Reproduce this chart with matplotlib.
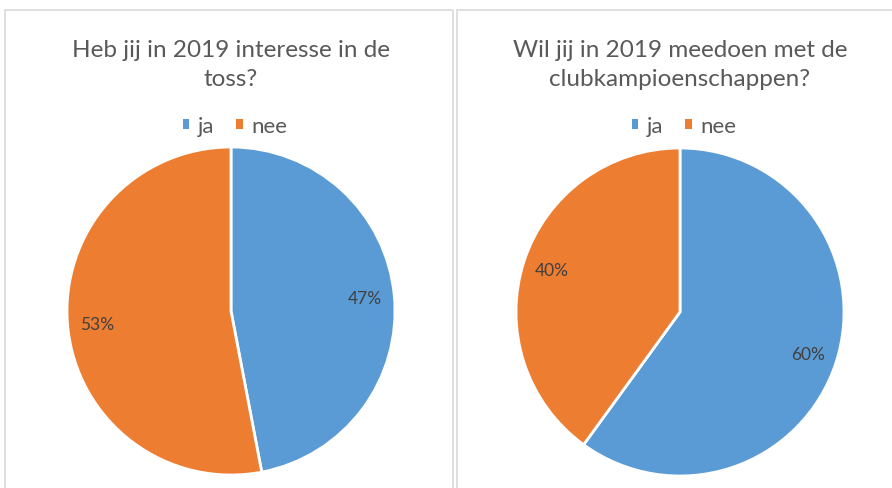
import matplotlib.pyplot as plt
from matplotlib.patches import Patch, Rectangle

# data
categories = ["ja", "nee"]
toss_values = [47, 53]
club_values = [60, 40]
titles = ["Heb jij in 2019 interesse in de\ntoss?",
          "Wil jij in 2019 meedoen met de\nclubkampioenschappen?"]

colors = ["#5B9BD5", "#ED7D31"]
W, H = 892, 489
plt.rcParams['font.family'] = ['Lato', 'DejaVu Sans']

fig = plt.figure(figsize=(W / 100, H / 100), dpi=100)

# panel borders (pixel coords -> figure fraction)
def px_rect(x0, y0, x1, y1):
    return Rectangle((x0 / W, 1 - y1 / H), (x1 - x0) / W, (y1 - y0) / H,
                     transform=fig.transFigure, fill=False,
                     edgecolor="#d9d9d9", linewidth=1.2)

fig.patches.append(px_rect(5, 11, 453, 492))
fig.patches.append(px_rect(457, 11, 900, 492))

R = 164
centers = [(231, 312), (680, 313)]
panels = [toss_values, club_values]

for (cx, cy), values, title in zip(centers, panels, titles):
    ax = fig.add_axes([(cx - R) / W, (H - cy - R) / H, 2 * R / W, 2 * R / H])
    ax.pie(values, colors=colors, startangle=90, counterclock=False,
           autopct=lambda p: f"{round(p)}%", pctdistance=0.82,
           wedgeprops=dict(edgecolor="white", linewidth=2),
           textprops=dict(color="#404040", fontsize=12.5))
    ax.set_xlim(-1, 1)
    ax.set_ylim(-1, 1)
    ax.set_aspect("equal")
    ax.axis("off")

    fig.text(cx / W, 1 - 65 / H, title, ha="center", va="center",
             fontsize=17.5, color="#595959", linespacing=1.45)

    handles = [Patch(facecolor=c, edgecolor="none") for c in colors]
    fig.legend(handles, categories, loc="center", ncol=2, frameon=False,
               bbox_to_anchor=((cx + 4) / W, 1 - 127 / H), fontsize=16,
               labelcolor="#595959", handletextpad=0.4, columnspacing=1.0,
               handlelength=0.28, handleheight=0.36)

fig.savefig("out.png", dpi=100)
